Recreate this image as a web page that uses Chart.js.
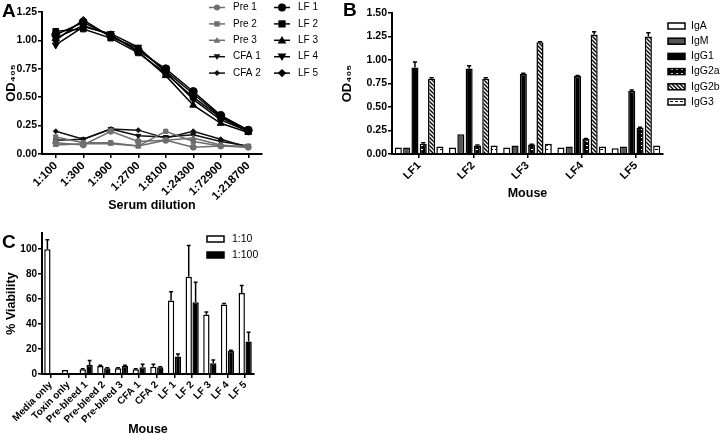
<!DOCTYPE html>
<html>
<head>
<meta charset="utf-8">
<script src="https://cdn.jsdelivr.net/npm/chart.js@4"></script>
<style>
  body { margin: 0; width: 720px; height: 434px; overflow: hidden; background: #fff; position: relative;
         font-family: "Liberation Sans", Arial, sans-serif; }
  canvas { position: absolute; }
  .tag { position: absolute; font-weight: bold; font-size: 19px; line-height: 1; }
</style>
</head>
<body>
<canvas id="chartA" width="340" height="218" style="left:0;top:0"></canvas>
<canvas id="chartB" width="380" height="206" style="left:340px;top:0"></canvas>
<canvas id="chartC" width="330" height="230" style="left:0;top:207px"></canvas>
<div class="tag" style="left:2px;top:1px">A</div>
<div class="tag" style="left:343px;top:0px">B</div>
<div class="tag" style="left:2px;top:232px">C</div>
<script>
// ---- panel A : OD405 vs serum dilution ----
const dilutions = ['1:100', '1:300', '1:900', '1:2700', '1:8100', '1:24300', '1:72900', '1:218700'];
const pre1 = [0.10, 0.08, 0.20, 0.11, 0.12, 0.06, 0.07, 0.06];
const pre2 = [0.15, 0.10, 0.10, 0.07, 0.20, 0.11, 0.07, 0.07];
const pre3 = [0.08, 0.09, 0.09, 0.07, 0.12, 0.14, 0.08, 0.06];
const cfa1 = [0.12, 0.13, 0.22, 0.16, 0.15, 0.17, 0.11, 0.07];
const cfa2 = [0.20, 0.13, 0.22, 0.21, 0.14, 0.20, 0.13, 0.06];
const lf1 = [1.05, 1.16, 1.04, 0.91, 0.75, 0.55, 0.34, 0.21];
const lf2 = [1.08, 1.10, 1.02, 0.89, 0.71, 0.50, 0.32, 0.20];
const lf3 = [1.02, 1.13, 1.05, 0.90, 0.69, 0.43, 0.27, 0.19];
const lf4 = [0.96, 1.12, 1.06, 0.94, 0.72, 0.48, 0.30, 0.20];
const lf5 = [1.00, 1.18, 1.03, 0.93, 0.73, 0.53, 0.33, 0.21];
const yTicksA = [0, 0.25, 0.5, 0.75, 1.0, 1.25];

// ---- panel B : isotypes per mouse ----
const mice = ['LF1', 'LF2', 'LF3', 'LF4', 'LF5'];
const igA   = [0.07, 0.07, 0.07, 0.07, 0.06];
const igM   = [0.07, 0.21, 0.09, 0.08, 0.08];
const igG1  = [0.92, 0.91, 0.85, 0.83, 0.67];
const igG2a = [0.11, 0.09, 0.10, 0.16, 0.28];
const igG2b = [0.80, 0.80, 1.19, 1.27, 1.25];
const igG3  = [0.08, 0.09, 0.11, 0.08, 0.09];
const igG1Err  = [0.06, 0.03, 0.01, 0.005, 0.01];
const igG2aErr = [0.01, 0.005, 0.005, 0.005, 0.005];
const igG2bErr = [0.01, 0.01, 0.005, 0.03, 0.04];

// ---- panel C : % viability ----
const groups = ['Media only', 'Toxin only', 'Pre-bleed 1', 'Pre-bleed 2', 'Pre-bleed 3', 'CFA 1', 'CFA 2',
                'LF 1', 'LF 2', 'LF 3', 'LF 4', 'LF 5'];
const dil10     = [100, 3.2, 3.8, 6.5, 4.6, 3.8, 5.9, 59, 78, 47.6, 55.6, 65];
const dil10Err  = [7.5, 0, 0.5, 0.5, 0.5, 0.5, 2, 7, 25, 2, 1, 6];
const dil100    = [null, null, 7.3, 4.6, 6.5, 5.4, 5.4, 14, 57.5, 8.6, 18.5, 26];
const dil100Err = [0, 0, 3.5, 0.5, 0.5, 2.5, 0.5, 2, 16, 2.7, 0.5, 7.5];

const FONT = '"Liberation Sans", Arial, sans-serif';
Chart.defaults.font.family = FONT;
Chart.defaults.color = '#000';

function makePattern(w, h, draw) {
  const c = document.createElement('canvas');
  c.width = w; c.height = h;
  const g = c.getContext('2d');
  draw(g, w, h);
  return g.createPattern(c, 'repeat');
}
// black with white dashes
const patG2a = makePattern(5, 4, (g, w, h) => {
  g.fillStyle = '#000'; g.fillRect(0, 0, w, h);
  g.fillStyle = '#fff'; g.fillRect(1, 1, 2, 1);
});
// diagonal stripes
const patG2b = makePattern(4, 4, (g, w, h) => {
  g.fillStyle = '#fff'; g.fillRect(0, 0, w, h);
  g.strokeStyle = '#000'; g.lineWidth = 1.4;
  g.beginPath();
  g.moveTo(0, 0); g.lineTo(4, 4);
  g.moveTo(-1, 3); g.lineTo(1, 5);
  g.moveTo(3, -1); g.lineTo(5, 1);
  g.stroke();
});
// white with black dashes
const patG3 = makePattern(5, 4, (g, w, h) => {
  g.fillStyle = '#fff'; g.fillRect(0, 0, w, h);
  g.fillStyle = '#000'; g.fillRect(0, 1, 3, 1);
});

function axisLook(extra) {
  return Object.assign({
    grid: { display: true, drawOnChartArea: false, drawTicks: true, tickLength: 4, color: '#000', lineWidth: 1.5, offset: false },
    border: { display: true, color: '#000', width: 2 }
  }, extra);
}

function drawMarker(ctx, style, rot, x, y, r, color) {
  ctx.fillStyle = color;
  ctx.beginPath();
  if (style === 'circle') {
    ctx.arc(x, y, r, 0, Math.PI * 2);
  } else if (style === 'rect') {
    ctx.rect(x - r * 0.9, y - r * 0.9, r * 1.8, r * 1.8);
  } else if (style === 'rectRot') {
    ctx.moveTo(x, y - r * 1.2); ctx.lineTo(x + r * 1.2, y); ctx.lineTo(x, y + r * 1.2); ctx.lineTo(x - r * 1.2, y); ctx.closePath();
  } else {
    const s = rot ? -1 : 1;
    ctx.moveTo(x, y - s * r * 1.1); ctx.lineTo(x + r * 1.1, y + s * r * 0.8); ctx.lineTo(x - r * 1.1, y + s * r * 0.8); ctx.closePath();
  }
  ctx.fill();
}

// upward error whiskers, GraphPad style
const errorBars = {
  id: 'errorBars',
  afterDatasetsDraw(chart) {
    const ctx = chart.ctx, ys = chart.scales.y;
    ctx.save();
    ctx.strokeStyle = '#000';
    ctx.lineWidth = 1.5;
    chart.data.datasets.forEach((ds, i) => {
      if (!ds.errs) return;
      chart.getDatasetMeta(i).data.forEach((el, j) => {
        const v = ds.data[j], e = ds.errs[j];
        if (v == null || !e) return;
        const top = ys.getPixelForValue(v + e);
        const cap = Math.max(1.5, el.width * 0.3);
        ctx.beginPath();
        ctx.moveTo(el.x, el.y); ctx.lineTo(el.x, top);
        ctx.moveTo(el.x - cap, top); ctx.lineTo(el.x + cap, top);
        ctx.stroke();
      });
    });
    ctx.restore();
  }
};

// two-column legend with line + symbol for panel A
const lineLegend = {
  id: 'lineLegend',
  afterDraw(chart) {
    const ctx = chart.ctx;
    ctx.save();
    ctx.font = '10px ' + FONT;
    ctx.textBaseline = 'middle';
    chart.data.datasets.forEach((ds, i) => {
      const col = Math.floor(i / 5), row = i % 5;
      const mx = col ? 282 : 217, tx = col ? 298 : 233, y = 7.5 + row * 16.4;
      ctx.strokeStyle = ds.borderColor;
      ctx.lineWidth = 1.5;
      ctx.beginPath(); ctx.moveTo(mx - 8, y); ctx.lineTo(mx + 8, y); ctx.stroke();
      drawMarker(ctx, ds.pointStyle, ds.pointRotation, mx, y, ds.pointRadius, ds.pointBackgroundColor);
      ctx.fillStyle = '#000';
      ctx.fillText(ds.label, tx, y);
    });
    ctx.restore();
  }
};

// box legend for bar panels
function boxLegend(id, bx, tx, y0, dy, fontSize) {
  return {
    id: id,
    afterDraw(chart) {
      const ctx = chart.ctx;
      ctx.save();
      ctx.font = fontSize + 'px ' + FONT;
      ctx.textBaseline = 'middle';
      chart.data.datasets.forEach((ds, i) => {
        const y = y0 + i * dy;
        ctx.fillStyle = ds.backgroundColor;
        ctx.fillRect(bx, y - 3, 17, 6);
        ctx.strokeStyle = '#000';
        ctx.lineWidth = 1.5;
        ctx.strokeRect(bx, y - 3, 17, 6);
        ctx.fillStyle = '#000';
        ctx.fillText(ds.label, tx, y);
      });
      ctx.restore();
    }
  };
}

// ---------- chart A ----------
const seriesA = [
  { label: 'Pre 1', data: pre1, color: '#6e6e6e', style: 'circle', r: 3 },
  { label: 'Pre 2', data: pre2, color: '#6e6e6e', style: 'rect', r: 3 },
  { label: 'Pre 3', data: pre3, color: '#6e6e6e', style: 'triangle', r: 3 },
  { label: 'CFA 1', data: cfa1, color: '#111', style: 'triangle', r: 3, rot: 180 },
  { label: 'CFA 2', data: cfa2, color: '#111', style: 'rectRot', r: 2.5 },
  { label: 'LF 1', data: lf1, color: '#000', style: 'circle', r: 4 },
  { label: 'LF 2', data: lf2, color: '#000', style: 'rect', r: 4 },
  { label: 'LF 3', data: lf3, color: '#000', style: 'triangle', r: 4 },
  { label: 'LF 4', data: lf4, color: '#000', style: 'triangle', r: 4, rot: 180 },
  { label: 'LF 5', data: lf5, color: '#000', style: 'rectRot', r: 3.5 }
];

new Chart(document.getElementById('chartA'), {
  type: 'line',
  data: {
    labels: dilutions,
    datasets: seriesA.map(s => ({
      label: s.label,
      data: s.data,
      borderColor: s.color,
      backgroundColor: s.color,
      borderWidth: 1.5,
      pointStyle: s.style,
      pointRadius: s.r,
      pointRotation: s.rot || 0,
      pointBackgroundColor: s.color,
      pointBorderColor: s.color,
      pointBorderWidth: 1,
      tension: 0
    }))
  },
  options: {
    responsive: false,
    animation: false,
    layout: { padding: { left: 0, right: 78, top: 12, bottom: 0 } },
    plugins: { legend: { display: false }, tooltip: { enabled: false } },
    scales: {
      x: axisLook({
        offset: true,
        ticks: { autoSkip: false, minRotation: 45, maxRotation: 45, padding: 1, font: { size: 11.5, weight: 'bold' } },
        title: { display: true, text: 'Serum dilution', font: { size: 12.5, weight: 'bold' }, padding: { top: 0, bottom: 5 } },
        afterFit: s => { s.height = 64; }
      }),
      y: axisLook({
        min: 0, max: 1.25,
        afterBuildTicks: s => { s.ticks = yTicksA.map(v => ({ value: v })); },
        ticks: { padding: 1, font: { size: 10.5, weight: 'bold' }, callback: v => v.toFixed(2) },
        title: { display: true, text: 'OD\u2084\u2080\u2085', font: { size: 13, weight: 'bold' }, padding: { top: 4, bottom: 0 } },
        afterFit: s => { s.width = 42; }
      })
    }
  },
  plugins: [lineLegend]
});

// ---------- chart B ----------
const seriesB = [
  { label: 'IgA', data: igA, fill: '#fff' },
  { label: 'IgM', data: igM, fill: '#555' },
  { label: 'IgG1', data: igG1, fill: '#000', errs: igG1Err },
  { label: 'IgG2a', data: igG2a, fill: patG2a, errs: igG2aErr },
  { label: 'IgG2b', data: igG2b, fill: patG2b, errs: igG2bErr },
  { label: 'IgG3', data: igG3, fill: patG3 }
];

new Chart(document.getElementById('chartB'), {
  type: 'bar',
  data: {
    labels: mice,
    datasets: seriesB.map(s => ({
      label: s.label,
      data: s.data,
      errs: s.errs,
      backgroundColor: s.fill,
      borderColor: '#000',
      borderWidth: 1.5,
      categoryPercentage: 0.92,
      barPercentage: 0.85
    }))
  },
  options: {
    responsive: false,
    animation: false,
    layout: { padding: { left: 0, right: 57, top: 13, bottom: 0 } },
    plugins: { legend: { display: false }, tooltip: { enabled: false } },
    scales: {
      x: axisLook({
        ticks: { autoSkip: false, minRotation: 45, maxRotation: 45, padding: 1, font: { size: 11, weight: 'bold' } },
        title: { display: true, text: 'Mouse', font: { size: 12.5, weight: 'bold' }, padding: { top: 0, bottom: 5 } },
        afterFit: s => { s.height = 52; }
      }),
      y: axisLook({
        min: 0, max: 1.5,
        ticks: { stepSize: 0.25, padding: 1, font: { size: 10.5, weight: 'bold' }, callback: v => v.toFixed(2) },
        title: { display: true, text: 'OD\u2084\u2080\u2085', font: { size: 13, weight: 'bold' }, padding: { top: 0, bottom: 0 } },
        afterFit: s => { s.width = 52; }
      })
    }
  },
  plugins: [errorBars, boxLegend('legendB', 328, 351, 26, 15.2, 10.5)]
});

// ---------- chart C ----------
new Chart(document.getElementById('chartC'), {
  type: 'bar',
  data: {
    labels: groups,
    datasets: [
      { label: '1:10', data: dil10, errs: dil10Err, backgroundColor: '#fff' },
      { label: '1:100', data: dil100, errs: dil100Err, backgroundColor: '#000' }
    ].map(d => Object.assign({ borderColor: '#000', borderWidth: 1.5, categoryPercentage: 0.78, barPercentage: 0.92 }, d))
  },
  options: {
    responsive: false,
    animation: false,
    layout: { padding: { left: 0, right: 76, top: 26, bottom: 0 } },
    plugins: { legend: { display: false }, tooltip: { enabled: false } },
    scales: {
      x: axisLook({
        ticks: { autoSkip: false, minRotation: 45, maxRotation: 45, padding: 1, font: { size: 10, weight: 'bold' } },
        title: { display: true, text: 'Mouse', font: { size: 12.5, weight: 'bold' }, padding: { top: 0, bottom: 0 } },
        afterFit: s => { s.height = 63; }
      }),
      y: axisLook({
        min: 0, max: 113,
        afterBuildTicks: s => { s.ticks = s.ticks.filter(t => t.value % 20 === 0); },
        ticks: { stepSize: 20, padding: 1, font: { size: 10, weight: 'bold' } },
        title: { display: true, text: '% Viability', font: { size: 12.5, weight: 'bold' }, padding: { top: 4, bottom: 0 } },
        afterFit: s => { s.width = 42; }
      })
    }
  },
  plugins: [errorBars, boxLegend('legendC', 207, 232, 32, 16, 10.5)]
});
</script>
</body>
</html>
